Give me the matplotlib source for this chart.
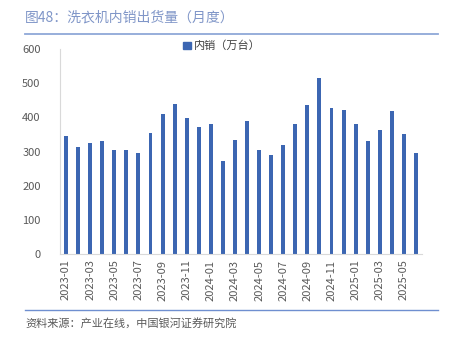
import numpy as np
import matplotlib
matplotlib.use('Agg')
import matplotlib.pyplot as plt
from matplotlib.lines import Line2D
from matplotlib.patches import Patch

plt.rcParams['font.family'] = ['Noto Sans CJK SC', 'DejaVu Sans']

months = ['2023-01','2023-02','2023-03','2023-04','2023-05','2023-06',
          '2023-07','2023-08','2023-09','2023-10','2023-11','2023-12',
          '2024-01','2024-02','2024-03','2024-04','2024-05','2024-06',
          '2024-07','2024-08','2024-09','2024-10','2024-11','2024-12',
          '2025-01','2025-02','2025-03','2025-04','2025-05','2025-06']
sales = [346,312,326,331,305,303,295,354,411,440,397,373,
         380,271,335,388,305,290,318,381,435,516,428,421,
         380,330,362,419,351,295]
yticks = [0,100,200,300,400,500,600]

bar_col = '#3C66B2'
txt_col = '#595959'

fig = plt.figure(figsize=(4.53,3.38), dpi=100)
ax = fig.add_axes([60/453, 1-254/338, 362/453, 205/338])

x = np.arange(len(months))
ax.bar(x, sales, width=0.33, color=bar_col)
ax.set_xlim(-0.5, len(months)-0.5)
ax.set_ylim(0, 600)
ax.set_yticks(yticks)
ax.set_yticklabels([str(v) for v in yticks], fontsize=8, color=txt_col)
ax.set_xticks(x[::2])
ax.set_xticklabels(months[::2], rotation=90, fontsize=8, color=txt_col)
ax.tick_params(length=0, pad=4)
ax.tick_params(axis='y', pad=14)
for s in ['top','right']:
	ax.spines[s].set_visible(False)
ax.spines['left'].set_color('#D9D9D9')
ax.spines['bottom'].set_color('#D9D9D9')

leg = fig.legend(handles=[Patch(color=bar_col, label='内销（万台）')], loc='center',
                 bbox_to_anchor=(222/453, 1-46/338), frameon=False, fontsize=8,
                 handlelength=0.7, handleheight=0.7, handletextpad=0.3)
for t in leg.get_texts():
	t.set_color('#404040')

fig.text(25/453, 1-18/338, '图48：洗衣机内销出货量（月度）', fontsize=10, color='#8096C8', va='center')
fig.add_artist(Line2D([25/453, 438/453], [1-34/338, 1-34/338], color='#8FA8D8', lw=1.3))
fig.add_artist(Line2D([25/453, 438/453], [1-310/338, 1-310/338], color='#6F8FD0', lw=1.0))
fig.text(25/453, 1-323/338, '资料来源：产业在线，中国银河证券研究院', fontsize=8, color=txt_col,
         va='center', style='italic')

plt.savefig('out.png', dpi=100)
